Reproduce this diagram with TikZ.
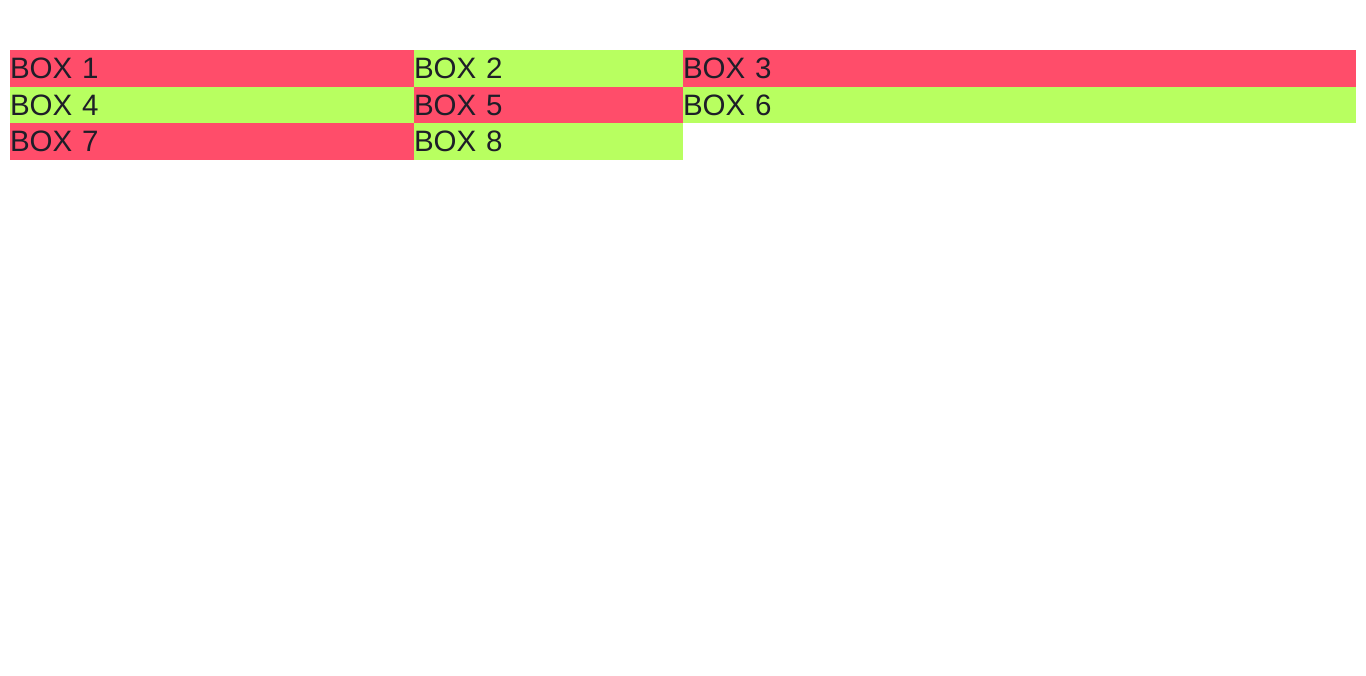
\documentclass[tikz,border=0pt]{standalone}
\usepackage{fontspec}
\setmainfont{Liberation Sans}
\usetikzlibrary{positioning}
\definecolor{boxred}{RGB}{255,77,106}
\definecolor{boxgreen}{RGB}{184,255,96}
\definecolor{boxtext}{RGB}{30,30,40}
\tikzset{box/.style={rectangle, inner sep=0pt, outer sep=0pt, minimum height=36.67pt, text=boxtext, align=left, font=\fontsize{29.5}{29.5}\selectfont}}
\tikzset{redbox/.style={box, fill=boxred}}
\tikzset{greenbox/.style={box, fill=boxgreen}}
\tikzset{colone/.style={text width=404pt}}
\tikzset{coltwo/.style={text width=269pt}}
\tikzset{colthree/.style={text width=673pt}}

\begin{document}
\begin{tikzpicture}
\useasboundingbox (0,0) rectangle (1366pt,-675pt);

%FIRST ROW
\node [redbox, colone, anchor=north west] (box1) at (10pt,-50pt) {BOX 1};
\node [greenbox, coltwo, right=0pt of box1] (box2) {BOX 2};
\node [redbox, colthree, right=0pt of box2] (box3) {BOX 3};

%SECOND ROW
\node [greenbox, colone, below=0pt of box1] (box4) {BOX 4};
\node [redbox, coltwo, below=0pt of box2] (box5) {BOX 5};
\node [greenbox, colthree, below=0pt of box3] (box6) {BOX 6};

%THIRD ROW
\node [redbox, colone, below=0pt of box4] (box7) {BOX 7};
\node [greenbox, coltwo, below=0pt of box5] (box8) {BOX 8};

\end{tikzpicture}
\end{document}
